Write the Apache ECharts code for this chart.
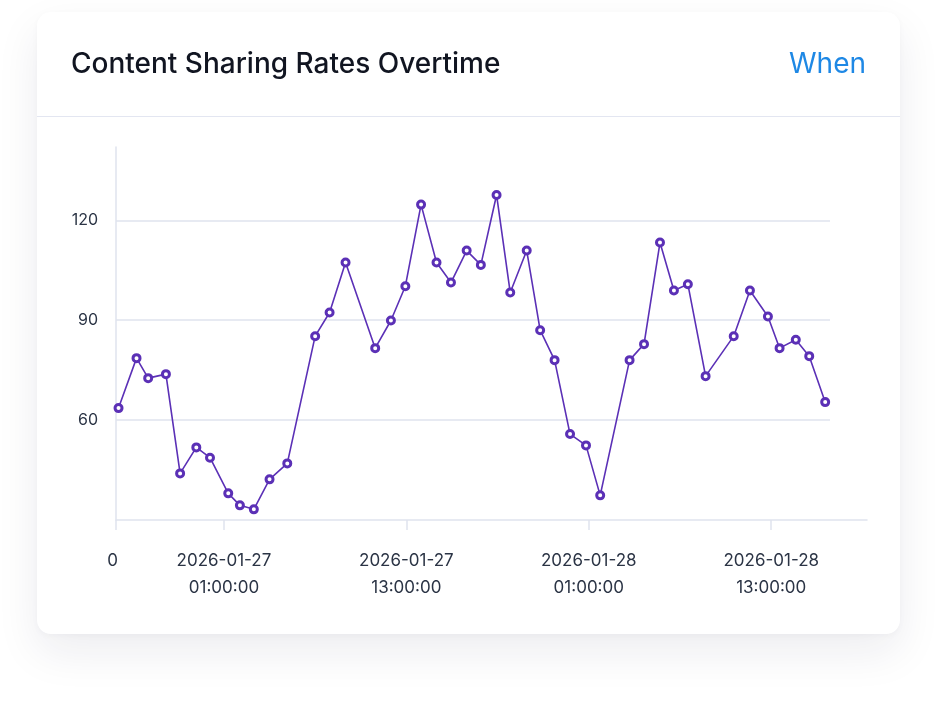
<!DOCTYPE html>
<html>
<head>
<meta charset="UTF-8">
<title>Content Sharing Rates Overtime</title>
<style>
  html, body { margin: 0; padding: 0; background: #fff; }
  body { width: 938px; height: 702px; position: relative; overflow: hidden; font-family: Inter, "Noto Sans", sans-serif; }
  .card {
    position: absolute; left: 37px; top: 12px; width: 863px; height: 622px;
    background: #fff; border-radius: 14px;
    box-shadow: 0 18px 44px rgba(20, 28, 60, 0.08), 0 2px 6px rgba(20, 28, 60, 0.03);
  }
  .card .sep { position: absolute; left: 0; right: 0; top: 104px; height: 1px; background: #e3e6f1; }
  #chart { position: absolute; left: 0; top: 0; width: 938px; height: 702px; }
</style>
</head>
<body>
<div class="card"><div class="sep"></div></div>
<div id="chart"></div>
<script src="https://cdn.jsdelivr.net/npm/echarts@6/dist/echarts.min.js"></script>
<script>
// sample times (local) and sharing rates
var times = [
  '2026-01-26 18:04', '2026-01-26 19:15', '2026-01-26 20:01', '2026-01-26 21:11',
  '2026-01-26 22:07', '2026-01-26 23:11', '2026-01-27 00:05', '2026-01-27 01:17',
  '2026-01-27 02:03', '2026-01-27 02:58', '2026-01-27 04:00', '2026-01-27 05:10',
  '2026-01-27 07:00', '2026-01-27 07:57', '2026-01-27 09:00', '2026-01-27 10:57',
  '2026-01-27 11:59', '2026-01-27 12:56', '2026-01-27 13:58', '2026-01-27 14:59',
  '2026-01-27 15:56', '2026-01-27 16:58', '2026-01-27 17:54', '2026-01-27 18:56',
  '2026-01-27 19:50', '2026-01-27 20:55', '2026-01-27 21:48', '2026-01-27 22:45',
  '2026-01-27 23:46', '2026-01-28 00:49', '2026-01-28 01:45', '2026-01-28 03:41',
  '2026-01-28 04:38', '2026-01-28 05:41', '2026-01-28 06:36', '2026-01-28 07:31',
  '2026-01-28 08:41', '2026-01-28 10:32', '2026-01-28 11:36', '2026-01-28 12:47',
  '2026-01-28 13:33', '2026-01-28 14:37', '2026-01-28 15:30', '2026-01-28 16:33'
];
var rates = [
  63.6, 78.6, 72.6, 73.8, 44.0, 51.8, 48.7, 38.0, 34.4, 33.2, 42.2, 47.0,
  85.2, 92.3, 107.3, 81.6, 89.9, 100.2, 124.7, 107.3, 101.3, 110.9, 106.6, 127.6,
  98.3, 110.9, 87.0, 78.0, 55.8, 52.4, 37.4, 78.0, 82.8, 113.3, 98.9, 100.8,
  73.2, 85.2, 98.9, 91.1, 81.6, 84.1, 79.2, 65.4
];
var xRange = ['2026-01-26 17:54', '2026-01-28 16:52'];
var xTicks = ['2026-01-27 01:00', '2026-01-27 13:00', '2026-01-28 01:00', '2026-01-28 13:00'];
var yTicks = [60, 90, 120];
var yRange = [30, 142];

function toTime(s) { return new Date(s.replace(' ', 'T') + ':00').getTime(); }
function pad(n) { return (n < 10 ? '0' : '') + n; }
function fmt(v) {
  var d = new Date(v);
  return d.getFullYear() + '-' + pad(d.getMonth() + 1) + '-' + pad(d.getDate()) + '\n' +
    pad(d.getHours()) + ':' + pad(d.getMinutes()) + ':' + pad(d.getSeconds());
}

var xMin = toTime(xRange[0]), xMax = toTime(xRange[1]);
var xTickVals = [xMin].concat(xTicks.map(toTime));
var points = times.map(function (t, i) { return [toTime(t), rates[i]]; });

var lineColor = '#5b30b6';
var axisColor = '#dfe3ee';
var labelColor = '#2b3445';

var chart = echarts.init(document.getElementById('chart'));
chart.setOption({
  animation: false,
  title: [{
    text: 'Content Sharing Rates Overtime',
    left: 66, top: 46,
    textStyle: { fontFamily: 'Inter', fontSize: 28, fontWeight: 500, color: '#111521' }
  }, {
    text: 'When',
    right: 67, top: 46,
    textStyle: { fontFamily: 'Inter', fontSize: 28, fontWeight: 400, color: '#1e88e5' }
  }],
  grid: [
    { left: 116, right: 108, top: 147, bottom: 182 },
    { left: 116, right: 71, top: 147, bottom: 182 }
  ],
  xAxis: [{
    gridIndex: 0,
    type: 'value',
    min: xMin, max: xMax,
    axisLine: { show: false },
    axisTick: { show: true, length: 10, customValues: xTickVals, lineStyle: { color: axisColor, width: 1.5 } },
    axisLabel: {
      customValues: xTickVals,
      margin: 27,
      fontFamily: 'Inter', fontSize: 17, lineHeight: 27, color: labelColor,
      formatter: function (v) { return v === xMin ? '{z|0}' : fmt(v); },
      rich: { z: { fontFamily: 'Inter', fontSize: 17, color: labelColor, padding: [0, 7, 0, 0] } }
    },
    splitLine: { show: false }
  }, {
    gridIndex: 1,
    type: 'value',
    min: 0, max: 1,
    axisLine: { show: true, lineStyle: { color: axisColor, width: 1.5 } },
    axisTick: { show: false },
    axisLabel: { show: false },
    splitLine: { show: false }
  }],
  yAxis: [{
    gridIndex: 0,
    type: 'value',
    min: yRange[0], max: yRange[1],
    axisLine: { show: true, lineStyle: { color: axisColor, width: 1.5 } },
    axisTick: { show: false, customValues: yTicks },
    axisLabel: {
      customValues: yTicks,
      margin: 18,
      fontFamily: 'Inter', fontSize: 16, color: labelColor
    },
    splitLine: { show: true, lineStyle: { color: axisColor, width: 1.5 } }
  }, {
    gridIndex: 1,
    type: 'value',
    min: 0, max: 1,
    show: false
  }],
  series: [{
    type: 'line',
    xAxisIndex: 0, yAxisIndex: 0,
    data: points,
    symbol: 'circle',
    symbolSize: 7,
    showAllSymbol: true,
    clip: false,
    lineStyle: { color: lineColor, width: 1.6 },
    itemStyle: { color: '#fff', borderColor: lineColor, borderWidth: 3 }
  }]
});
</script>
</body>
</html>
